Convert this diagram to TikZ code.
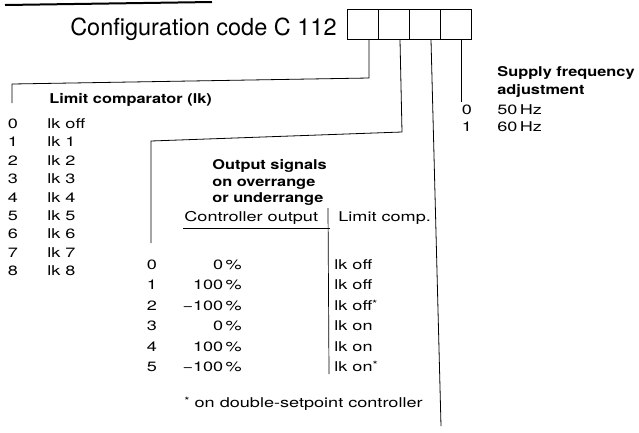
\documentclass[tikz,border=0pt]{standalone}
\usepackage{fontspec}
\setmainfont{TeX Gyre Heros}
\newfontfamily\smallf[FakeStretch=1.34]{TeX Gyre Heros}
\newfontfamily\boldf[FakeStretch=1.21]{TeX Gyre Heros Bold}
\newfontfamily\titlef{TeX Gyre Heros}
\newcommand{\fstar}{\raisebox{3pt}{\fontsize{10}{10}\selectfont *}}
\begin{document}
\begin{tikzpicture}[x=1pt,y=-1pt,line width=0.8pt,
  txt/.style={font=\smallf\fontsize{13.5}{15}\selectfont, inner sep=0pt, anchor=base west},
  hd/.style={font=\boldf\fontsize{13.5}{15}\selectfont, inner sep=0pt, anchor=base west},
  num/.style={font=\smallf\fontsize{13.5}{15}\selectfont, inner sep=0pt, anchor=base},
  pct/.style={font=\smallf\fontsize{13.5}{15}\selectfont, inner sep=0pt, anchor=base east},
  ttl/.style={font=\titlef\fontsize{23.5}{26}\selectfont, inner sep=0pt, anchor=base east},
  cell/.style={draw, minimum width=31pt, minimum height=30pt, inner sep=0pt},
  conn/.style={line width=0.8pt}]
\useasboundingbox (0,0) rectangle (639,432);
% top rule
\draw[line width=2pt] (5,5) -- (212,2);
% title and code cells
\node[ttl] (title) at (337,35) {Configuration code C 112};
\node[cell] (b1) at (362.5,24.5) {};
\node[cell] (b2) at (393.5,24.5) {};
\node[cell] (b3) at (424.5,24.5) {};
\node[cell] (b4) at (455.5,24.5) {};
% connector coordinates
\coordinate (k1) at (369,78);
\coordinate (k2) at (12,84);
\coordinate (k3) at (12,103);
\coordinate (m1) at (402,132);
\coordinate (m2) at (151,141);
\coordinate (m3) at (151,243);
\coordinate (n0) at (431,40);
\coordinate (n1) at (441,426);
\coordinate (p1) at (461,102);
\draw[conn] (b1.south -| k1) -- (k1) -- (k2) -- (k3);
\draw[conn] (b2.south -| 400,0) -- (m1) -- (m2) -- (m3);
\draw[conn] (b3.south -| n0) -- (n1);
\draw[conn] (b4.south -| p1) -- (p1);
% Limit comparator
\node[hd] (lch) at (49,103) {Limit comparator (lk)};
\foreach \i/\t in {0/lk off,1/lk 1,2/lk 2,3/lk 3,4/lk 4,5/lk 5,6/lk 6,7/lk 7,8/lk 8}{
  \node[num] (ln\i) at (13,128.5+18.4*\i) {\i};
  \node[txt] (lt\i) at (47,128.5+18.4*\i) {\t};
}
% Output signals
\node[hd] (os1) at (212,169.5) {Output signals};
\node[hd] (os2) at (212,186.5) {on overrange};
\node[hd] (os3) at (212,202.5) {or underrange};
\node[txt] (co) at (184,221.5) {Controller output};
\node[txt] (lcp) at (338,221.5) {Limit comp.};
\coordinate (u1) at (183,228);
\coordinate (u2) at (330,228);
\coordinate (d1) at (328,208);
\coordinate (d2) at (329,374);
\draw[line width=0.7pt] (u1) -- (u2);
\draw[line width=0.7pt] (d1) -- (d2);
\foreach \i/\p/\l in {0/0\,\%/lk off,1/100\,\%/lk off,2/−100\,\%/lk off\fstar,3/0\,\%/lk on,4/100\,\%/lk on,5/−100\,\%/lk on\fstar}{
  \node[num] (on\i) at (152,269.5+20.4*\i) {\i};
  \node[pct] (op\i) at (242,269.5+20.4*\i) {\p};
  \node[txt] (ol\i) at (334,269.5+20.4*\i) {\l};
}
\node[txt] (fn) at (184,407) {\fstar\ on double-setpoint controller};
% Supply frequency
\node[hd] (sf1) at (497,76.5) {Supply frequency};
\node[hd] (sf2) at (497,94.5) {adjustment};
\node[num] (sn0) at (467,114.5) {0};
\node[txt] (st0) at (497,114.5) {50\,Hz};
\node[num] (sn1) at (467,131.5) {1};
\node[txt] (st1) at (497,131.5) {60\,Hz};
\end{tikzpicture}
\end{document}
